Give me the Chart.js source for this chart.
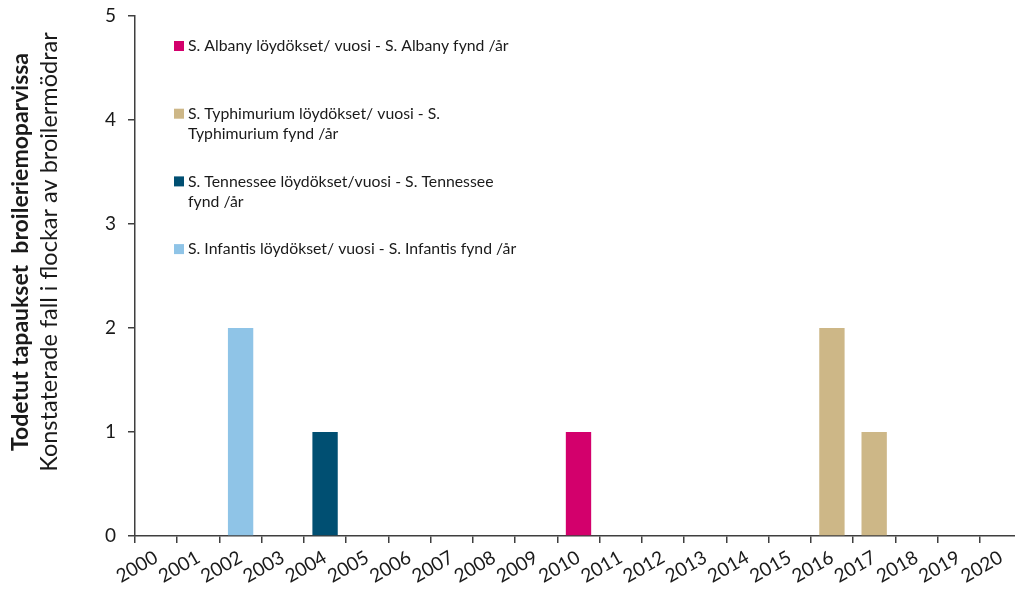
<!DOCTYPE html>
<html>
<head>
<meta charset="utf-8">
<script src="https://cdn.jsdelivr.net/npm/chart.js@4"></script>
<style>
  html, body { margin: 0; padding: 0; background: #fff; overflow: hidden; }
  #wrap { width: 1025px; height: 591px; }
</style>
</head>
<body>
<div id="wrap"><canvas id="salmonellaChart" width="1025" height="591"></canvas></div>
<script>
// Years on the x axis
const years = ['2000', '2001', '2002', '2003', '2004', '2005', '2006', '2007', '2008', '2009', '2010',
    '2011', '2012', '2013', '2014', '2015', '2016', '2017', '2018', '2019', '2020'];

// Findings per year for each serotype
const infantis    = [0, 0, 2, 0, 0, 0, 0, 0, 0, 0, 0, 0, 0, 0, 0, 0, 0, 0, 0, 0, 0];
const tennessee   = [0, 0, 0, 0, 1, 0, 0, 0, 0, 0, 0, 0, 0, 0, 0, 0, 0, 0, 0, 0, 0];
const typhimurium = [0, 0, 0, 0, 0, 0, 0, 0, 0, 0, 0, 0, 0, 0, 0, 0, 2, 1, 0, 0, 0];
const albany      = [0, 0, 0, 0, 0, 0, 0, 0, 0, 0, 1, 0, 0, 0, 0, 0, 0, 0, 0, 0, 0];

// Legend texts, as they wrap in the original
const legendAlbany = ['S. Albany löydökset/ vuosi - S. Albany fynd /år'];
const legendTyphimurium = ['S. Typhimurium löydökset/ vuosi - S.', 'Typhimurium fynd /år'];
const legendTennessee = ['S. Tennessee löydökset/vuosi - S. Tennessee', 'fynd /år'];
const legendInfantis = ['S. Infantis löydökset/ vuosi - S. Infantis fynd /år'];

// Axis title lines
const yTitleBold = 'Todetut tapaukset  broileriemoparvissa';
const yTitleNormal = 'Konstaterade fall i flockar av broilermödrar';

const textColor = '#1a1a1a';
const axisColor = '#3f3f3f';
const fontFamily = 'Lato, "Open Sans", sans-serif';

// Draws the two-line y axis title (bold + normal)
const yTitlePlugin = {
    id: 'yTitle',
    afterDraw(chart) {
        const ctx = chart.ctx;
        const cy = 252;
        ctx.save();
        ctx.fillStyle = textColor;
        ctx.textAlign = 'center';
        ctx.textBaseline = 'middle';
        ctx.translate(21, cy);
        ctx.rotate(-Math.PI / 2);
        ctx.font = 'bold 23px ' + fontFamily;
        ctx.fillText(yTitleBold, 0, 0);
        ctx.font = '23.5px ' + fontFamily;
        ctx.fillText(yTitleNormal, 0, 28);
        ctx.restore();
    }
};

// Legend inside the plot, top left, with wrapped labels
const legendPlugin = {
    id: 'insideLegend',
    afterDraw(chart) {
        const ctx = chart.ctx;
        const order = [3, 2, 1, 0];
        const left = chart.chartArea.left + 39;
        ctx.save();
        ctx.font = '15.8px ' + fontFamily;
        ctx.textBaseline = 'middle';
        ctx.textAlign = 'left';
        order.forEach((dsIndex, i) => {
            const ds = chart.data.datasets[dsIndex];
            const y = 46 + i * 67.7;
            ctx.fillStyle = ds.backgroundColor;
            ctx.fillRect(left, y - 5, 10, 10);
            ctx.fillStyle = textColor;
            ds.legendLines.forEach((line, j) => {
                ctx.fillText(line, left + 14, y + j * 20);
            });
        });
        ctx.restore();
    }
};

const ctx = document.getElementById('salmonellaChart').getContext('2d');
const chart = new Chart(ctx, {
    type: 'bar',
    data: {
        labels: years,
        datasets: [
            { label: legendInfantis.join(' '), legendLines: legendInfantis, data: infantis, backgroundColor: '#8fc4e7' },
            { label: legendTennessee.join(' '), legendLines: legendTennessee, data: tennessee, backgroundColor: '#004f72' },
            { label: legendTyphimurium.join(' '), legendLines: legendTyphimurium, data: typhimurium, backgroundColor: '#cdb787' },
            { label: legendAlbany.join(' '), legendLines: legendAlbany, data: albany, backgroundColor: '#d3006c' },
        ],
    },
    options: {
        responsive: false,
        animation: false,
        events: [],
        layout: { padding: { top: 16, right: 3, left: 0, bottom: 0 } },
        datasets: { bar: { barPercentage: 0.6, categoryPercentage: 1.0 } },
        plugins: {
            legend: { display: false },
            tooltip: { enabled: false },
        },
        scales: {
            x: {
                stacked: true,
                afterFit(scale) {
                    scale.height = 55;
                    scale.paddingLeft = 0;
                    scale.paddingRight = 0;
                },
                border: { color: axisColor, width: 1.5 },
                grid: { drawOnChartArea: false, drawTicks: true, tickLength: 7, color: axisColor, lineWidth: 1.5 },
                ticks: {
                    color: textColor,
                    font: { family: fontFamily, size: 19 },
                    minRotation: 30,
                    maxRotation: 30,
                    autoSkip: false,
                    padding: 3,
                },
            },
            y: {
                stacked: true,
                min: 0,
                max: 5,
                afterFit(scale) {
                    scale.width = 135;
                    scale.paddingTop = 0;
                    scale.paddingBottom = 0;
                },
                border: { color: axisColor, width: 1.5 },
                grid: { drawOnChartArea: false, drawTicks: true, tickLength: 7, color: axisColor, lineWidth: 1.5 },
                ticks: {
                    stepSize: 1,
                    color: textColor,
                    font: { family: fontFamily, size: 19 },
                    padding: 12,
                },
            },
        },
    },
    plugins: [yTitlePlugin, legendPlugin],
});
</script>
</body>
</html>
